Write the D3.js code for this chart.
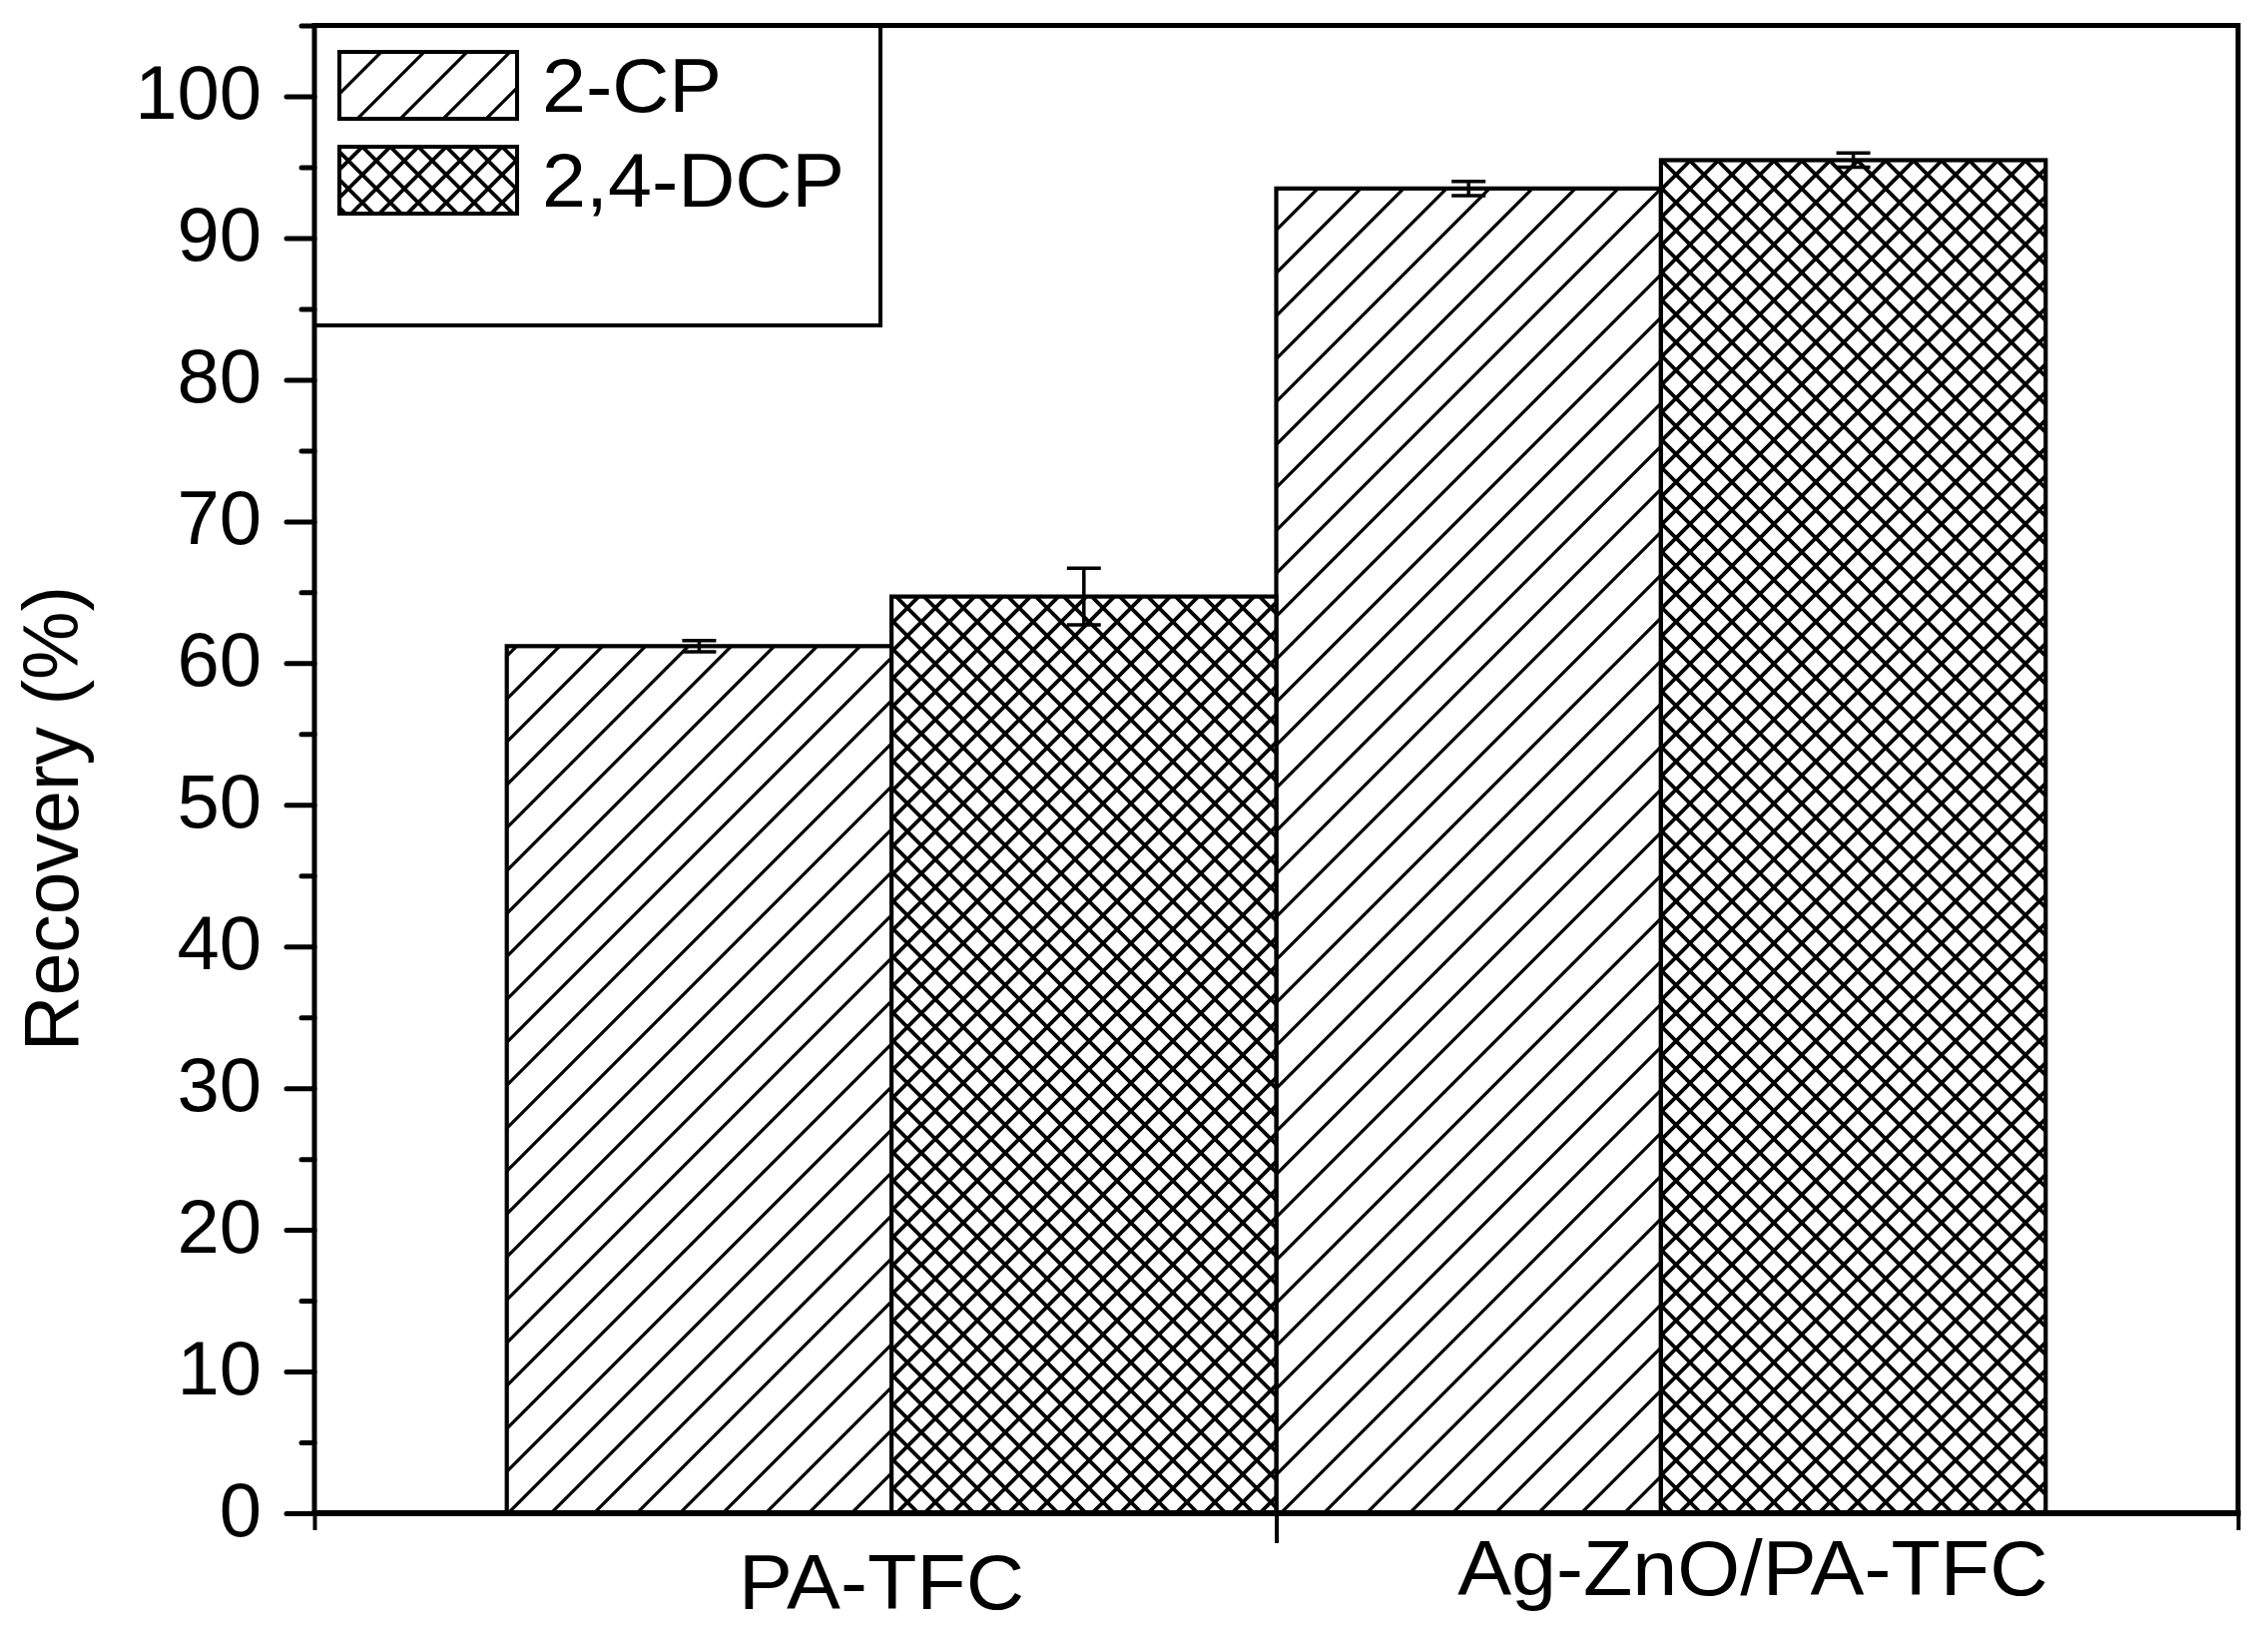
<!DOCTYPE html>
<html>
<head>
<meta charset="utf-8">
<script src="https://cdn.jsdelivr.net/npm/d3@7"></script>
<style>
  html, body { margin: 0; padding: 0; background: #fff; }
  svg { display: block; }
  text { font-family: "Liberation Sans", Arial, sans-serif; fill: #000; }
</style>
</head>
<body>
<script>
// ---- data ----
const categories = ["PA-TFC", "Ag-ZnO/PA-TFC"];
const seriesNames = ["2-CP", "2,4-DCP"];
const recovery2CP = [61.2, 93.5];
const recoveryDCP = [64.7, 95.5];
const error2CP = [0.4, 0.5];
const errorDCP = [2.0, 0.5];
const yMajorTicks = [0, 10, 20, 30, 40, 50, 60, 70, 80, 90, 100];
const yMinorTicks = [5, 15, 25, 35, 45, 55, 65, 75, 85, 95, 105];
const yAxisTitle = "Recovery (%)";

// ---- layout ----
const W = 2272, H = 1635;
const plotL = 315, plotR = 2242, plotT = 25.6, plotB = 1516;

const svg = d3.select("body").append("svg").attr("width", W).attr("height", H);

const x = d3.scaleLinear().domain([0.25, 2.75]).range([plotL, plotR]);
const y = d3.scaleLinear().domain([0, 105]).range([plotB, plotT]);

// patterns
const defs = svg.append("defs");
const hatch = defs.append("pattern").attr("id", "hatch")
  .attr("patternUnits", "userSpaceOnUse").attr("width", 43).attr("height", 43).attr("x", 4).attr("y", 0);
hatch.append("path")
  .attr("d", "M-10,53L53,-10 M-10,10L10,-10 M33,53L53,33")
  .attr("stroke", "#000").attr("stroke-width", 3.2).attr("fill", "none");

const cross = defs.append("pattern").attr("id", "cross")
  .attr("patternUnits", "userSpaceOnUse").attr("width", 28).attr("height", 28).attr("x", 13).attr("y", -7);
cross.append("path")
  .attr("d", "M-4,-4L32,32 M-14,14L14,42 M14,-14L42,14 M-4,32L32,-4 M-14,14L14,-14 M14,42L42,14")
  .attr("stroke", "#000").attr("stroke-width", 3.8).attr("fill", "none");

const fills = ["url(#hatch)", "url(#cross)"];

// bars
const series = [
  { name: seriesNames[0], values: recovery2CP, errors: error2CP, offset: -0.5 },
  { name: seriesNames[1], values: recoveryDCP, errors: errorDCP, offset: 0 }
];
const barW = 0.5;

series.forEach((s, si) => {
  const g = svg.append("g");
  s.values.forEach((v, ci) => {
    const x0 = x(ci + 1 + s.offset), x1 = x(ci + 1 + s.offset + barW);
    g.append("rect")
      .attr("x", x0).attr("y", y(v))
      .attr("width", x1 - x0).attr("height", y(0) - y(v))
      .attr("fill", "#fff");
    g.append("rect")
      .attr("x", x0).attr("y", y(v))
      .attr("width", x1 - x0).attr("height", y(0) - y(v))
      .attr("fill", fills[si])
      .attr("stroke", "#000").attr("stroke-width", 4.2);
  });
});

// error bars
series.forEach((s) => {
  s.values.forEach((v, ci) => {
    const cx = x(ci + 1 + s.offset + barW / 2);
    const e = s.errors[ci];
    const g = svg.append("g").attr("stroke", "#000").attr("stroke-width", 3.5);
    g.append("line").attr("x1", cx).attr("x2", cx).attr("y1", y(v + e)).attr("y2", y(v - e));
    g.append("line").attr("x1", cx - 17).attr("x2", cx + 17).attr("y1", y(v + e)).attr("y2", y(v + e));
    g.append("line").attr("x1", cx - 17).attr("x2", cx + 17).attr("y1", y(v - e)).attr("y2", y(v - e));
  });
});

// helper: stretch text slightly wider to match the reference glyph widths
function widen(sel, k) {
  sel.each(function () {
    const w = this.getComputedTextLength();
    d3.select(this).attr("textLength", w * k).attr("lengthAdjust", "spacingAndGlyphs");
  });
}

// legend
const lg = svg.append("g");
lg.append("rect").attr("x", plotL).attr("y", plotT).attr("width", 882 - plotL).attr("height", 326 - plotT)
  .attr("fill", "none").attr("stroke", "#000").attr("stroke-width", 4);
seriesNames.forEach((n, i) => {
  const sy = 52 + i * 95;
  lg.append("rect").attr("x", 340).attr("y", sy).attr("width", 178).attr("height", 67).attr("fill", "#fff");
  lg.append("rect").attr("x", 340).attr("y", sy).attr("width", 178).attr("height", 67)
    .attr("fill", fills[i]).attr("stroke", "#000").attr("stroke-width", 4);
  lg.append("text").attr("x", 543).attr("y", sy + 60).attr("font-size", 76).text(n).call(widen, 1.04);
});

// frame (top & right)
svg.append("path")
  .attr("d", `M${plotL},${plotT}H${plotR}V${plotB}`)
  .attr("fill", "none").attr("stroke", "#000").attr("stroke-width", 5);

// y axis
const yMinor = svg.append("g").attr("transform", `translate(${plotL},0)`)
  .call(d3.axisLeft(y).tickValues(yMinorTicks).tickSize(13).tickFormat(""));
const yMajor = svg.append("g").attr("transform", `translate(${plotL},0)`)
  .call(d3.axisLeft(y).tickValues(yMajorTicks).tickSize(28).tickPadding(25).tickFormat(d3.format("d")));
[yMinor, yMajor].forEach(g => {
  g.select(".domain").remove();
  g.selectAll(".tick line").attr("stroke", "#000").attr("stroke-width", 5).attr("stroke-linecap", "round");
});
yMajor.selectAll(".tick text").attr("font-size", 76).attr("font-family", "Liberation Sans, Arial, sans-serif")
  .attr("dy", 22).attr("fill", "#000");

// x axis
const xMinor = svg.append("g").attr("transform", `translate(0,${plotB})`)
  .call(d3.axisBottom(x).tickValues([0.25, 2.75]).tickSize(17).tickFormat(""));
const xMajor = svg.append("g").attr("transform", `translate(0,${plotB})`)
  .call(d3.axisBottom(x).tickValues([1.5]).tickSize(30).tickFormat(""));
[xMinor, xMajor].forEach(g => {
  g.select(".domain").remove();
  g.selectAll(".tick line").attr("stroke", "#000").attr("stroke-width", 4);
});

// axis lines
svg.append("line").attr("x1", plotL).attr("x2", plotL).attr("y1", plotT - 2.5).attr("y2", plotB + 2.5)
  .attr("stroke", "#000").attr("stroke-width", 5);
svg.append("line").attr("x1", plotL - 2.5).attr("x2", plotR + 2.5).attr("y1", plotB).attr("y2", plotB)
  .attr("stroke", "#000").attr("stroke-width", 6);

// category labels
const labelNudge = [[-10, 1612], [92, 1598]];
categories.forEach((c, i) => {
  svg.append("text")
    .attr("x", x(i + 1) + labelNudge[i][0])
    .attr("y", labelNudge[i][1])
    .attr("text-anchor", "middle")
    .attr("font-size", 77)
    .text(c)
    .call(widen, 1.05);
});

// y title
svg.append("text")
  .attr("transform", `translate(78,820) rotate(-90)`)
  .attr("text-anchor", "middle")
  .attr("font-size", 77)
  .text(yAxisTitle);
</script>
</body>
</html>
